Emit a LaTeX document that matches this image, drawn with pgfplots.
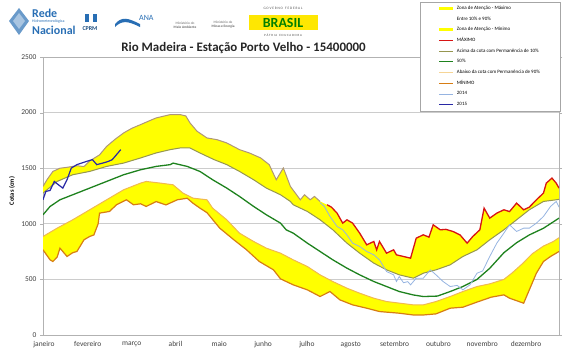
\documentclass[border=0pt]{standalone}
\usepackage{pgfplots}
\pgfplotsset{compat=1.18}
\usepgfplotslibrary{fillbetween}
\usepackage{pgfplotstable}
\usepackage{fontspec}
\setmainfont{Carlito}
\definecolor{topc}{RGB}{175,150,120}
\definecolor{maxc}{RGB}{215,20,20}
\definecolor{p10c}{RGB}{150,150,80}
\definecolor{medc}{RGB}{30,130,30}
\definecolor{p90c}{RGB}{240,185,80}
\definecolor{minc}{RGB}{215,125,20}
\definecolor{y14c}{RGB}{150,180,225}
\definecolor{y15c}{RGB}{40,40,165}
\definecolor{zona}{RGB}{255,255,0}
\definecolor{logob}{RGB}{40,110,180}

\pgfplotstableread{
d v
1 1336
4 1400
8 1471
13 1500
18 1508
25 1522
30 1515
34 1565
41 1620
46 1696
52 1760
58 1817
64 1860
70 1892
76 1925
81 1952
86 1967
91 1982
98 1982
102 1970
105 1907
110 1832
117 1772
124 1757
131 1727
140 1667
147 1637
155 1592
161 1532
166 1396
171 1502
172 1470
176 1336
183 1216
186 1261
190 1216
193 1246
197 1201
202 1171
205 1150
209 1096
213 1006
216 1036
220 1006
225 916
230 811
235 841
237 766
239 841
244 736
249 766
251 721
256 706
261 691
265 871
270 901
274 880
277 991
282 946
286 950
291 931
296 900
301 826
305 886
310 946
313 1141
317 1051
322 1096
327 1126
331 1110
336 1186
341 1126
345 1150
350 1216
355 1276
357 1366
361 1411
364 1366
366 1321
}\tTop

\pgfplotstableread{
d v
1 1276
11 1381
22 1441
34 1471
46 1516
58 1546
70 1592
81 1637
91 1667
98 1682
105 1682
112 1637
122 1577
131 1532
140 1471
150 1396
159 1321
169 1261
176 1201
178 1171
188 1111
197 1036
206 946
216 826
225 736
235 646
244 586
253 541
263 511
270 556
279 586
289 631
298 706
308 766
317 856
327 946
336 1036
345 1126
355 1201
364 1216
366 1220
}\tPten

\pgfplotstableread{
d v
1 1081
6 1156
13 1216
22 1261
34 1321
46 1381
58 1441
70 1486
81 1516
91 1532
93 1546
103 1516
112 1471
121 1396
131 1321
140 1246
150 1156
159 1081
169 1006
173 946
178 916
188 826
197 751
206 676
216 601
225 541
235 481
244 436
253 391
263 360
270 346
280 350
289 391
298 436
308 500
317 600
327 740
336 830
345 900
355 960
366 1051
}\tMed

\pgfplotstableread{
d v
1 886
11 961
22 1036
34 1126
46 1216
58 1306
70 1366
74 1381
84 1366
93 1351
100 1276
107 1231
117 1216
121 1141
131 1036
140 916
150 841
159 781
169 736
178 676
188 616
197 541
206 481
216 421
225 376
235 331
244 301
263 271
270 271
279 301
289 346
298 391
308 436
317 460
327 500
333 560
340 640
347 730
355 800
362 841
366 875
}\tPninety

\pgfplotstableread{
d v
1 766
6 676
8 661
11 700
13 781
18 706
22 740
25 751
30 856
34 886
37 900
40 1000
41 1096
48 1111
53 1171
60 1216
65 1171
70 1180
74 1156
81 1200
88 1170
96 1216
103 1230
107 1186
112 1141
117 1100
126 961
136 856
145 766
154 661
164 586
169 505
178 451
188 406
197 346
204 391
211 316
220 271
230 241
239 211
253 196
263 180
270 180
279 190
289 241
298 250
308 296
318 340
327 361
331 331
341 286
345 406
350 556
355 661
360 706
366 751
}\tMin

\pgfplotstableread{
d v
197 1190
200 1156
204 1066
209 976
213 946
216 900
220 826
225 796
230 751
235 721
239 676
244 571
249 541
251 481
253 526
256 470
259 480
261 451
265 511
270 511
275 586
279 541
284 481
289 436
294 446
298 406
303 451
308 556
312 576
317 706
322 826
327 916
331 991
336 931
341 961
345 961
350 1006
355 1066
360 1156
364 1201
366 1150
}\tYfourteen

\pgfplotstableread{
d v
1 1216
3 1291
6 1300
9 1381
11 1360
15 1321
18 1396
21 1501
25 1532
32 1562
36 1577
39 1532
43 1545
47 1560
50 1577
54 1637
56 1667
}\tYfifteen

\begin{document}
\begin{tikzpicture}
\begin{axis}[
  at={(43bp,19bp)}, anchor=south west,
  scale only axis, width=516bp, height=278bp,
  set layers,
  xmin=1, xmax=366, ymin=0, ymax=2500,
  ytick={0,500,...,2500},
  ymajorgrids, grid style={gray!40, line width=0.7pt},
  axis line style={gray!60, line width=0.7pt},
  tick align=outside,
  ytick style={gray!60},
  major tick length=3bp,
  xtick={1.7,32.7,63.7,94.7,125.7,156.7,187.7,218.7,249.7,280.7,311.7,342.7},
  xticklabels={janeiro,fevereiro,março,abril,maio,junho,julho,agosto,setembro,outubro,novembro,dezembro},
  xtick style={draw=none},
  /pgf/number format/assume math mode=true,
  /pgf/number format/1000 sep={},
  xticklabel style={font=\fontsize{7.5}{8}\selectfont, text=black!75},
  yticklabel style={font=\fontsize{7.5}{8}\selectfont, text=black!75},
  ylabel={\textbf{Cotas (cm)}},
  ylabel style={at={(axis description cs:-0.06,0.518)}, anchor=center, font=\fontsize{6.5}{7}\selectfont},
  legend image code/.code={\draw[#1] (0bp,0bp) -- (14bp,0bp);},
  legend style={at={(axis description cs:1.002,1.198)}, anchor=north east,
    draw=gray!70, fill=white, font=\fontsize{5}{6}\selectfont,
    inner xsep=18bp, inner ysep=2bp, row sep=1.6bp},
  legend cell align=left,
]
% boundaries for fills
\addplot[name path=top, draw=none, forget plot] table[x=d,y=v] {\tTop};
\addplot[name path=pten, draw=none, forget plot] table[x=d,y=v] {\tPten};
\addplot[name path=pninety, draw=none, forget plot] table[x=d,y=v] {\tPninety};
\addplot[name path=mn, draw=none, forget plot] table[x=d,y=v] {\tMin};
\addplot[fill=zona, draw=none, forget plot] fill between[of=top and pten];
\addplot[fill=zona, draw=none, forget plot] fill between[of=pninety and mn];
% lines
\addplot[topc, line width=1bp, forget plot, restrict x to domain=1:200] table[x=d,y=v] {\tTop};
\addplot[maxc, line width=1.3bp, forget plot, restrict x to domain=199:366] table[x=d,y=v] {\tTop};
\addplot[p10c, line width=1bp, forget plot] table[x=d,y=v] {\tPten};
\addplot[medc, line width=1.3bp, forget plot] table[x=d,y=v] {\tMed};
\addplot[p90c, line width=1bp, forget plot] table[x=d,y=v] {\tPninety};
\addplot[minc, line width=1.2bp, forget plot] table[x=d,y=v] {\tMin};
\addplot[y14c, line width=0.8bp, forget plot] table[x=d,y=v] {\tYfourteen};
\addplot[y15c, line width=1.2bp, forget plot] table[x=d,y=v] {\tYfifteen};
% legend
\addlegendimage{zona, line width=3bp}
\addlegendentry{Zona de Atenção - Máximo}
\addlegendimage{white, line width=3bp}
\addlegendentry{Entre 10\% e 90\%}
\addlegendimage{zona, line width=3bp}
\addlegendentry{Zona de Atenção - Mínimo}
\addlegendimage{maxc, line width=1bp}
\addlegendentry{MÁXIMO}
\addlegendimage{p10c, line width=1bp}
\addlegendentry{Acima da cota com Permanência de 10\%}
\addlegendimage{medc, line width=1bp}
\addlegendentry{50\%}
\addlegendimage{p90c!60, line width=1bp}
\addlegendentry{Abaixo da cota com Permanência de 90\%}
\addlegendimage{minc, line width=1bp}
\addlegendentry{MÍNIMO}
\addlegendimage{y14c, line width=1bp}
\addlegendentry{2014}
\addlegendimage{y15c, line width=1bp}
\addlegendentry{2015}
\end{axis}
\begin{scope}[x=1bp,y=1bp]
% title
\node[font=\fontsize{13}{14}\bfseries, text=black!85] at (243.5,306) {Rio Madeira - Estação Porto Velho - 15400000};
% logos
\fill[logob!70] (19,346) -- (29,333) -- (19,319) -- (9,333) -- cycle;
\fill[logob!40] (19,341) -- (25,333) -- (19,325) -- (13,333) -- cycle;
\node[anchor=west, font=\fontsize{12}{12}\bfseries, text=logob, inner sep=0] at (32,341) {Rede};
\node[anchor=west, font=\fontsize{4}{4}\selectfont, text=logob, inner sep=0] at (32,333) {Hidrometeorológica};
\node[anchor=west, font=\fontsize{12}{12}\bfseries, text=logob, inner sep=0] at (32,324) {Nacional};
\fill[logob] (85,340) rectangle (97,332);
\fill[white] (89,341) rectangle (93,331);
\node[font=\fontsize{6}{6}\bfseries, text=logob!70!black, inner sep=0] at (90,325) {CPRM};
\fill[logob] (115,330) .. controls (122,338) and (128,336) .. (140,330) -- (140,327) .. controls (128,333) and (122,334) .. (115,327) -- cycle;
\node[anchor=west, font=\fontsize{8}{8}\selectfont, text=logob, inner sep=0] at (139,336) {ANA};
\node[font=\fontsize{3.5}{4}\selectfont, text=black!60, align=center] at (185,329) {Ministério do\\\textbf{Meio Ambiente}};
\node[font=\fontsize{3.5}{4}\selectfont, text=black!60, align=center] at (223,329) {Ministério de\\\textbf{Minas e Energia}};
\node[font=\fontsize{3.5}{4}\selectfont, text=black!70, inner sep=0] at (283,346) {G O V E R N O \ \ F E D E R A L};
\fill[yellow!90!orange] (249,339) rectangle (318,324);
\node[font=\fontsize{14}{14}\bfseries, text=green!50!black, inner sep=0] at (283,331.5) {BRASIL};
\node[font=\fontsize{3.2}{4}\selectfont, text=black!70, inner sep=0] at (283,319) {P Á T R I A \ \ E D U C A D O R A};
\pgfresetboundingbox
\path[use as bounding box] (0,0) rectangle (570,354);
\end{scope}
\end{tikzpicture}
\end{document}
